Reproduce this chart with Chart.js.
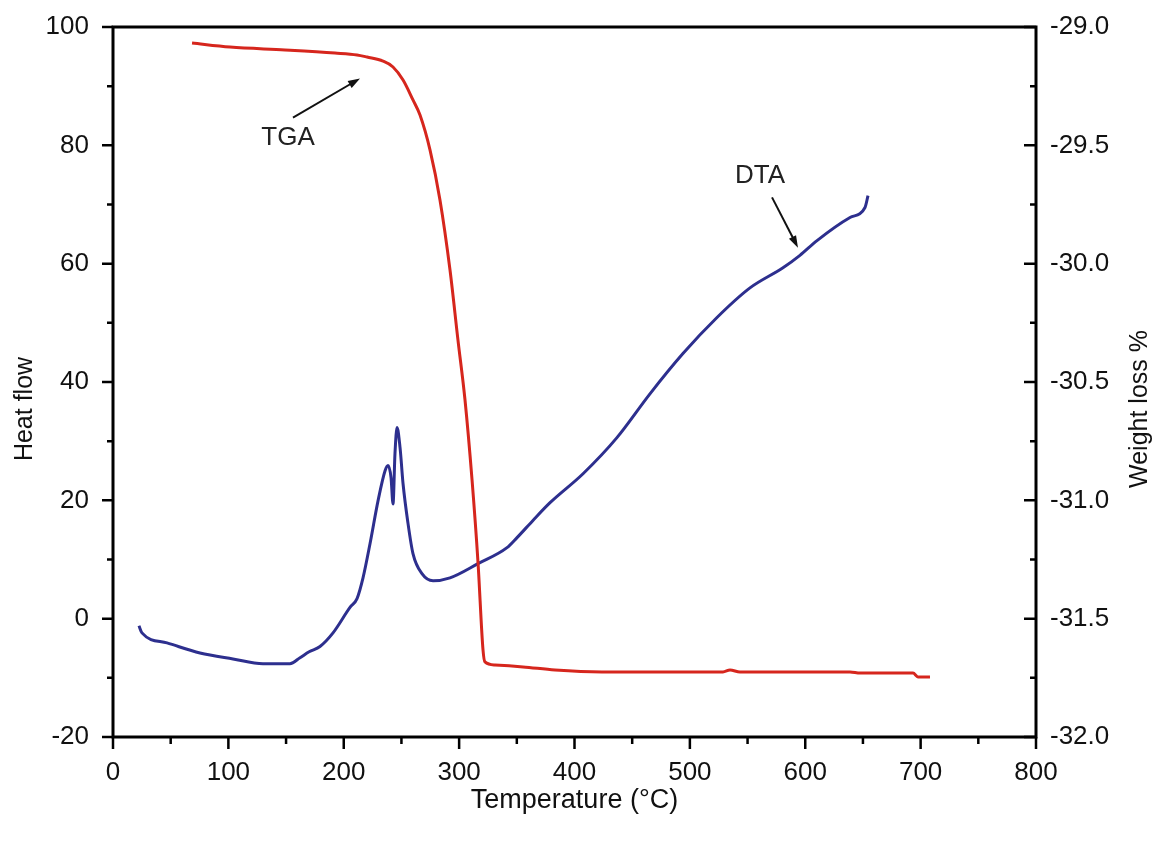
<!DOCTYPE html>
<html>
<head>
<meta charset="utf-8">
<script src="https://cdn.jsdelivr.net/npm/chart.js@4.4.1/dist/chart.umd.min.js"></script>
<style>
  html, body { margin: 0; padding: 0; background: #fff; }
  #wrap { width: 1159px; height: 844px; }
</style>
</head>
<body>
<div id="wrap"><canvas id="thermoChart" width="1159" height="844"></canvas></div>
<script>
// TGA curve (temperature in °C, weight loss % on the right axis)
const tgaTemp = [68.5, 101.4, 149.1, 192.4, 211.5, 220.2, 234.0, 242.7, 251.4, 260.0, 266.1, 274.8,
  283.4, 292.1, 299.0, 305.1, 311.2, 316.4, 320.7, 322.4, 331.1, 355.4, 383.1, 423.8, 528.7, 534.8,
  543.4, 638.8, 647.5, 693.4, 697.7, 708.1];
const tgaWeight = [-29.068, -29.085, -29.097, -29.110, -29.118, -29.127, -29.144, -29.169, -29.224,
  -29.308, -29.372, -29.520, -29.731, -30.027, -30.323, -30.576, -30.914, -31.265, -31.632, -31.683,
  -31.696, -31.704, -31.717, -31.725, -31.725, -31.717, -31.725, -31.725, -31.730, -31.730, -31.746,
  -31.746];

// DTA curve (temperature in °C, heat flow on the left axis)
const dtaTemp = [22.5, 25.1, 46.8, 75.4, 104.0, 130.0, 153.4, 162.1, 170.0, 179.4, 190.7, 205.4,
  211.5, 216.7, 222.8, 229.7, 235.8, 238.4, 241.0, 242.7, 244.4, 246.2, 248.8, 251.4, 255.7, 260.0,
  267.8, 277.4, 292.1, 316.4, 341.5, 350.2, 364.0, 378.8, 407.4, 436.8, 465.4, 494.0, 523.5, 552.1,
  580.7, 595.4, 610.2, 638.8, 651.8, 654.4];
const dtaHeat = [-1.2, -2.4, -4.1, -5.8, -6.8, -7.6, -7.6, -6.6, -5.6, -4.7, -2.4, 1.9,
  3.4, 6.9, 12.7, 19.9, 25.0, 25.9, 23.8, 19.4, 27.9, 32.3, 28.9, 22.8, 16.1, 11.0,
  7.6, 6.4, 6.9, 9.3, 12.0, 13.7, 16.6, 19.6, 24.5, 30.6, 38.0, 44.8, 50.9, 55.9,
  59.3, 61.4, 63.9, 67.8, 69.5, 71.5];

// tick labels
const xTicks = [0, 100, 200, 300, 400, 500, 600, 700, 800];
const heatTicks = [-20, 0, 20, 40, 60, 80, 100];
const weightTicks = [-32.0, -31.5, -31.0, -30.5, -30.0, -29.5, -29.0];

const FONT = '"Liberation Sans", Arial, sans-serif';

// annotation text + arrow, in x / heat-flow coordinates
const notes = [
  { text: 'TGA', x: 151.7, y: 81.3, from: [156, 84.7], to: [214.1, 91.3] },
  { text: 'DTA', x: 560.8, y: 74.9, from: [571.2, 71.2], to: [593.7, 62.7] }
];

function midpoints(arr) {
  const out = [];
  for (let i = 0; i < arr.length - 1; i++) out.push((arr[i] + arr[i + 1]) / 2);
  return out;
}

const framePlugin = {
  id: 'framePlugin',
  afterDatasetsDraw(chart) {
    const { ctx, chartArea: a, scales } = chart;
    ctx.save();
    ctx.strokeStyle = '#000';
    ctx.lineCap = 'butt';

    // ticks
    ctx.lineWidth = 2.5;
    ctx.beginPath();
    xTicks.forEach(v => { const p = scales.x.getPixelForValue(v); ctx.moveTo(p, a.bottom); ctx.lineTo(p, a.bottom + 12); });
    midpoints(xTicks).forEach(v => { const p = scales.x.getPixelForValue(v); ctx.moveTo(p, a.bottom); ctx.lineTo(p, a.bottom + 7); });
    heatTicks.forEach(v => { const p = scales.y.getPixelForValue(v); ctx.moveTo(a.left, p); ctx.lineTo(a.left - 11, p); });
    midpoints(heatTicks).forEach(v => { const p = scales.y.getPixelForValue(v); ctx.moveTo(a.left, p); ctx.lineTo(a.left - 6, p); });
    weightTicks.forEach(v => { const p = scales.y1.getPixelForValue(v); ctx.moveTo(a.right, p); ctx.lineTo(a.right - 12, p); });
    midpoints(weightTicks).forEach(v => { const p = scales.y1.getPixelForValue(v); ctx.moveTo(a.right, p); ctx.lineTo(a.right - 6, p); });
    ctx.stroke();

    // box
    ctx.lineWidth = 3;
    ctx.strokeRect(a.left, a.top, a.right - a.left, a.bottom - a.top);

    // notes with arrows
    ctx.font = '26px ' + FONT;
    ctx.textAlign = 'center';
    ctx.textBaseline = 'middle';
    notes.forEach(n => {
      ctx.fillStyle = '#222';
      ctx.fillText(n.text, scales.x.getPixelForValue(n.x), scales.y.getPixelForValue(n.y));
      const x0 = scales.x.getPixelForValue(n.from[0]), y0 = scales.y.getPixelForValue(n.from[1]);
      const x1 = scales.x.getPixelForValue(n.to[0]), y1 = scales.y.getPixelForValue(n.to[1]);
      const ang = Math.atan2(y1 - y0, x1 - x0);
      ctx.lineWidth = 2;
      ctx.strokeStyle = '#111';
      ctx.beginPath();
      ctx.moveTo(x0, y0);
      ctx.lineTo(x1 - 8 * Math.cos(ang), y1 - 8 * Math.sin(ang));
      ctx.stroke();
      ctx.beginPath();
      ctx.moveTo(x1, y1);
      ctx.lineTo(x1 - 12 * Math.cos(ang) + 4 * Math.sin(ang), y1 - 12 * Math.sin(ang) - 4 * Math.cos(ang));
      ctx.lineTo(x1 - 12 * Math.cos(ang) - 4 * Math.sin(ang), y1 - 12 * Math.sin(ang) + 4 * Math.cos(ang));
      ctx.closePath();
      ctx.fillStyle = '#111';
      ctx.fill();
    });

    // vertical axis titles (both read bottom to top)
    const midY = (a.top + a.bottom) / 2 + 27;
    ctx.font = '25px ' + FONT;
    ctx.fillStyle = '#111';
    [['Heat flow', a.left - 88], ['Weight loss %', a.right + 104]].forEach(([t, x]) => {
      ctx.save();
      ctx.translate(x, midY);
      ctx.rotate(-Math.PI / 2);
      ctx.fillText(t, 0, 0);
      ctx.restore();
    });
    ctx.restore();
  }
};

const ctx = document.getElementById('thermoChart');

function fixVertical(width) {
  return s => { s.width = width; s.paddingTop = 0; s.paddingBottom = 0; };
}

new Chart(ctx, {
  type: 'line',
  data: {
    datasets: [{
      label: 'TGA',
      data: tgaTemp.map((t, i) => ({ x: t, y: tgaWeight[i] })),
      yAxisID: 'y1',
      borderColor: '#d6261d',
      borderWidth: 3,
      pointRadius: 0,
      cubicInterpolationMode: 'monotone'
    }, {
      label: 'DTA',
      data: dtaTemp.map((t, i) => ({ x: t, y: dtaHeat[i] })),
      yAxisID: 'y',
      borderColor: '#2d2f8e',
      borderWidth: 3,
      pointRadius: 0,
      cubicInterpolationMode: 'monotone'
    }]
  },
  options: {
    responsive: false,
    animation: false,
    devicePixelRatio: 1,
    layout: { padding: { top: 27, left: 0, right: 0, bottom: 0 } },
    plugins: { legend: { display: false }, tooltip: { enabled: false } },
    scales: {
      x: {
        type: 'linear',
        min: 0,
        max: 800,
        afterBuildTicks: s => { s.ticks = xTicks.map(v => ({ value: v })); },
        afterFit: s => { s.height = 107; s.paddingLeft = 0; s.paddingRight = 0; },
        grid: { display: false, drawTicks: false },
        border: { display: false },
        ticks: { color: '#111', font: { family: FONT, size: 26 }, padding: 20, maxRotation: 0 },
        title: {
          display: true,
          text: 'Temperature (°C)',
          color: '#111',
          font: { family: FONT, size: 27 },
          padding: { top: 0, bottom: 27 }
        }
      },
      y: {
        type: 'linear',
        position: 'left',
        min: -20,
        max: 100,
        afterBuildTicks: s => { s.ticks = heatTicks.map(v => ({ value: v })); },
        afterFit: fixVertical(113),
        grid: { display: false, drawTicks: false },
        border: { display: false },
        ticks: { color: '#111', font: { family: FONT, size: 26 }, padding: 24 }
      },
      y1: {
        type: 'linear',
        position: 'right',
        min: -32,
        max: -29,
        afterBuildTicks: s => { s.ticks = weightTicks.map(v => ({ value: v })); },
        afterFit: fixVertical(123),
        grid: { display: false, drawTicks: false },
        border: { display: false },
        ticks: { color: '#111', font: { family: FONT, size: 26 }, padding: 14, callback: v => v.toFixed(1) }
      }
    }
  },
  plugins: [framePlugin]
});
</script>
</body>
</html>
